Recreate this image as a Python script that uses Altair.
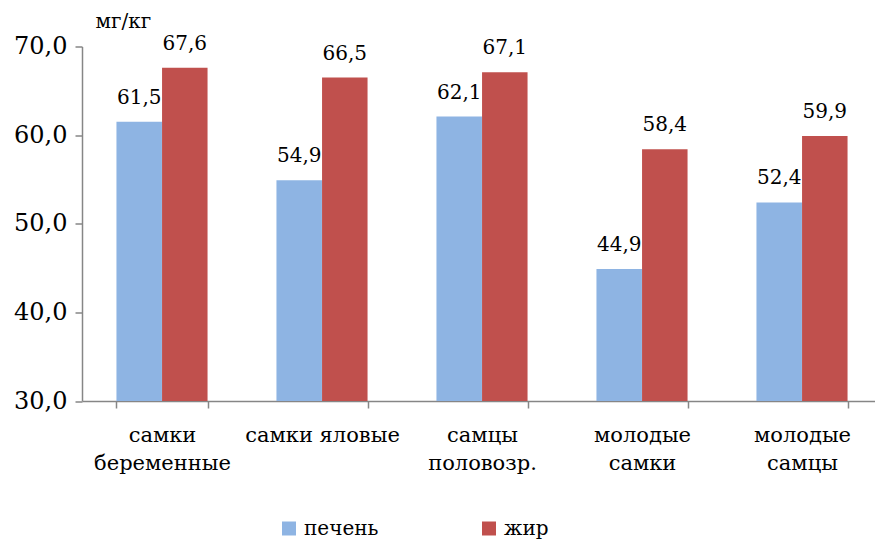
import altair as alt
import pandas as pd

# Categories (x axis), series names and values, mg/kg
categories = ["самки\nбеременные", "самки яловые", "самцы\nполовозр.", "молодые\nсамки", "молодые\nсамцы"]
series = ["печень", "жир"]
liver = [61.5, 54.9, 62.1, 44.9, 52.4]
fat = [67.6, 66.5, 67.1, 58.4, 59.9]
y_ticks = [30, 40, 50, 60, 70]
colors = ["#8EB4E3", "#C0504D"]

rows = []
for cat, a, b in zip(categories, liver, fat):
    rows.append({"cat": cat, "series": series[0], "value": a})
    rows.append({"cat": cat, "series": series[1], "value": b})
df = pd.DataFrame(rows)

FONT = "DejaVu Serif"
AXIS_GRAY = "#868686"

x_enc = alt.X(
    "cat:N",
    sort=categories,
    scale=alt.Scale(range=[0, 800], paddingInner=0.43, paddingOuter=0.215),
    axis=alt.Axis(
        title=None,
        labelExpr="split(datum.label, '\\n')",
        labelAngle=0,
        labelFont=FONT,
        labelFontSize=21,
        labelColor="black",
        labelBaseline="alphabetic",
        labelLineHeight=28,
        labelPadding=33,
        labelLimit=300,
        tickBand="extent",
        tickSize=7,
        tickColor=AXIS_GRAY,
        domainColor=AXIS_GRAY,
        domainWidth=1.5,
        tickWidth=1.5,
    ),
)
x_off = alt.XOffset("series:N", sort=series, scale=alt.Scale(paddingInner=0))

y_enc = alt.Y(
    "value:Q",
    scale=alt.Scale(domain=[30, 70], nice=False, zero=False),
    axis=alt.Axis(
        values=y_ticks,
        labelExpr="replace(format(datum.value, '.1f'), '.', ',')",
        labelFont=FONT,
        labelFontSize=24,
        labelColor="black",
        labelPadding=8,
        tickSize=7,
        tickColor=AXIS_GRAY,
        domainColor=AXIS_GRAY,
        domainWidth=1.5,
        tickWidth=1.5,
        grid=False,
        title="мг/кг",
        titleAngle=0,
        titleX=13,
        titleY=-19,
        titleAlign="left",
        titleBaseline="alphabetic",
        titleFont=FONT,
        titleFontSize=20,
        titleFontWeight="normal",
        titleColor="black",
    ),
)

color_enc = alt.Color(
    "series:N",
    sort=series,
    scale=alt.Scale(domain=series, range=colors),
    legend=alt.Legend(
        title=None,
        orient="none",
        direction="horizontal",
        legendX=197,
        legendY=472,
        symbolType="square",
        symbolSize=196,
        symbolStrokeWidth=0,
        labelFont=FONT,
        labelFontSize=20,
        labelColor="black",
        labelOffset=5,
        columnPadding=100,
    ),
)

# bars rise from the bottom of the value axis (30)
bars = alt.Chart(df).mark_bar(size=45.5).encode(
    x=x_enc, xOffset=x_off, y=y_enc, y2=alt.datum(30), color=color_enc
)

labels = (
    alt.Chart(df)
    .transform_calculate(label="replace(format(datum.value, '.1f'), '.', ',')")
    .mark_text(font=FONT, fontSize=20, baseline="alphabetic", align="center", dy=-18, color="black")
    .encode(x=x_enc, xOffset=x_off, y=y_enc, text="label:N")
)

chart = (
    alt.layer(bars, labels)
    .properties(
        width=793,
        height=354.5,
        autosize=alt.AutoSizeParams(type="none"),
        padding={"left": 82, "top": 46.5, "right": 0, "bottom": 138},
        background="white",
    )
    .configure_view(stroke=None)
)

chart.save("out.html", embed_options={"renderer": "svg", "actions": False})
